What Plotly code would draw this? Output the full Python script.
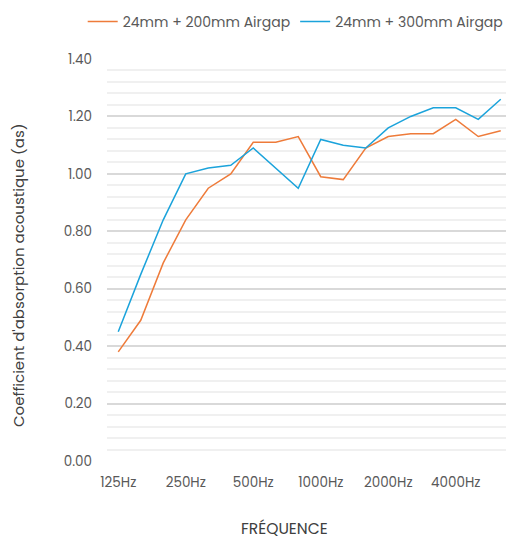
import plotly.graph_objects as go

bands = ["125Hz", "160Hz", "200Hz", "250Hz", "315Hz", "400Hz", "500Hz", "630Hz",
         "800Hz", "1000Hz", "1250Hz", "1600Hz", "2000Hz", "2500Hz", "3150Hz",
         "4000Hz", "5000Hz", "6300Hz"]
airgap_200 = [0.38, 0.49, 0.69, 0.84, 0.95, 1.00, 1.11, 1.11, 1.13, 0.99,
              0.98, 1.09, 1.13, 1.14, 1.14, 1.19, 1.13, 1.15]
airgap_300 = [0.45, 0.65, 0.84, 1.00, 1.02, 1.03, 1.09, 1.02, 0.95, 1.12,
              1.10, 1.09, 1.16, 1.20, 1.23, 1.23, 1.19, 1.26]
tick_labels = ["125Hz", "250Hz", "500Hz", "1000Hz", "2000Hz", "4000Hz"]

font_family = "Poppins, Open Sans, sans-serif"
text_grey = "#595959"
title_grey = "#404040"

fig = go.Figure()
fig.add_trace(go.Scatter(x=bands, y=airgap_200, mode="lines",
                         name="24mm + 200mm Airgap",
                         line=dict(color="#EE7B3A", width=1.5)))
fig.add_trace(go.Scatter(x=bands, y=airgap_300, mode="lines",
                         name="24mm + 300mm Airgap",
                         line=dict(color="#1BA3DB", width=1.5)))

# page body has an 8px margin, so the figure is drawn 8px smaller
fig.update_layout(
    width=506, height=530,
    template="plotly_white",
    plot_bgcolor="white",
    margin=dict(l=99, r=2, t=51, b=77, autoexpand=False),
    font=dict(family=font_family, size=13, color=text_grey),
    legend=dict(orientation="h", x=-0.06, xanchor="left",
                y=1.092, yanchor="middle",
                font=dict(size=14, color=text_grey), itemwidth=30,
                bgcolor="rgba(0,0,0,0)"),
)
fig.update_xaxes(
    type="category", range=[-0.5, len(bands) - 0.5],
    tickmode="array", tickvals=tick_labels, ticktext=tick_labels,
    tickfont=dict(size=13.5),
    showgrid=False, zeroline=False, showline=False,
    ticklabelstandoff=11, automargin=False,
)
fig.update_yaxes(
    range=[0, 1.4], dtick=0.2, tickformat=".2f",
    tickfont=dict(size=13.5),
    showgrid=True, gridcolor="#D9D9D9", gridwidth=2,
    minor=dict(dtick=0.04, showgrid=True, gridcolor="#F0F0F0", gridwidth=2),
    zeroline=False, showline=False,
    ticklabelstandoff=14, automargin=False,
)

# axis titles placed as annotations to match the original offsets
fig.add_annotation(text="FRÉQUENCE", xref="paper", yref="paper",
                   x=(284 - 107) / 405, y=-(528 - 461) / 402,
                   xanchor="center", yanchor="middle", showarrow=False,
                   font=dict(size=15.5, color=title_grey))
fig.add_annotation(text="Coefficient d'absorption acoustique (as)",
                   xref="paper", yref="paper",
                   x=(18 - 107) / 405, y=(461 - 275) / 402,
                   xanchor="center", yanchor="middle", textangle=-90,
                   showarrow=False, font=dict(size=15, color=title_grey))

fig.write_html("out.html")
